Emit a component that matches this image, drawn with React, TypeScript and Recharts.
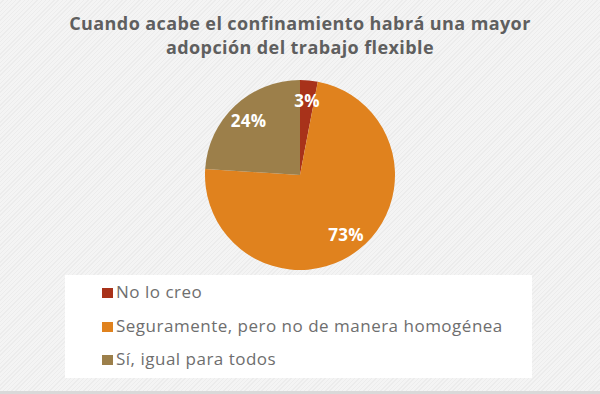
import React from "react";
import { PieChart, Pie, Cell, Legend } from "recharts";

const categories = ["No lo creo", "Seguramente, pero no de manera homogénea", "Sí, igual para todos"];
const values = [3, 73, 24];
const colors = ["#A8321A", "#E0821E", "#9C7F4A"];
const titleLines = ["Cuando acabe el confinamiento habrá una mayor", "adopción del trabajo flexible"];

const data = categories.map((name, i) => ({ name, value: values[i] }));
const total = values.reduce((a, b) => a + b, 0);
const FONT = "'Open Sans', 'DejaVu Sans', sans-serif";

const RAD = Math.PI / 180;
const renderLabel = (props: any) => {
  const { cx, cy, midAngle, outerRadius, value } = props;
  const r = outerRadius * 0.79;
  const x = cx + r * Math.cos(-midAngle * RAD);
  const y = cy + r * Math.sin(-midAngle * RAD);
  return (
    <text x={x} y={y} fill="#ffffff" textAnchor="middle" dominantBaseline="central"
      fontFamily={FONT} fontWeight={700} fontSize={17} letterSpacing={0.3}>
      {`${Math.round((value / total) * 100)}%`}
    </text>
  );
};

const renderLegend = () => (
  <div style={{ position: "absolute", left: 0, top: 0, width: 600 }}>
    {data.map((d, i) => (
      <div key={d.name} style={{ position: "absolute", left: 102, top: 282 + i * 33.5, height: 20, whiteSpace: "nowrap" }}>
        <div style={{ position: "absolute", left: 0, top: 6, width: 11, height: 10, background: colors[i] }} />
        <span style={{ position: "absolute", left: 14, top: 0, fontFamily: FONT, fontSize: 17, lineHeight: "20px",
          letterSpacing: 0.5, color: "#6e6e6e" }}>{d.name}</span>
      </div>
    ))}
  </div>
);

export default function App() {
  return (
    <div style={{ position: "absolute", left: 0, top: 0, width: 600, height: 394, overflow: "hidden",
      background: "repeating-linear-gradient(135deg, #f4f4f4 0px, #f4f4f4 2px, #ececec 2px, #ececec 3px)" }}>
      <div style={{ position: "absolute", left: 65, top: 275, width: 467, height: 103, background: "#ffffff" }} />
      <div style={{ position: "absolute", left: 0, top: 391, width: 600, height: 3, background: "#d9d9d9" }} />
      <div style={{ position: "absolute", left: 0, top: 11, width: 600, textAlign: "center", fontFamily: FONT,
        fontWeight: 700, fontSize: 18, lineHeight: "24px", letterSpacing: 0.4, color: "#5f5f5f" }}>
        {titleLines.map((t) => <div key={t}>{t}</div>)}
      </div>
      <div style={{ position: "absolute", left: 0, top: 0 }}>
        <PieChart width={600} height={394} margin={{ top: 0, right: 0, bottom: 0, left: 0 }}>
          <Pie data={data} dataKey="value" nameKey="name" cx={300} cy={175} outerRadius={95}
            startAngle={90} endAngle={-270} stroke="none" label={renderLabel} labelLine={false}
            isAnimationActive={false}>
            {data.map((d, i) => <Cell key={d.name} fill={colors[i]} />)}
          </Pie>
          <Legend content={renderLegend} wrapperStyle={{ position: "absolute", left: 0, top: 0, width: 600, height: 0 }} />
        </PieChart>
      </div>
    </div>
  );
}
